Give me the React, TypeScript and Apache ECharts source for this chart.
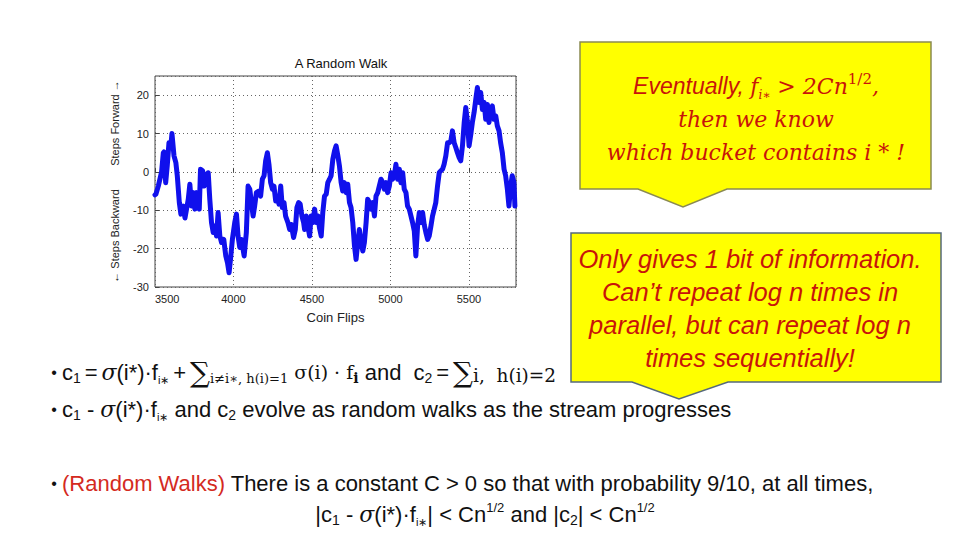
import React, { useEffect, useRef } from "react";
import * as echarts from "echarts";

// ---- data ----
const FLIPS = [
  3500, 3506, 3521, 3542, 3553, 3557, 3568, 3578, 3589, 3600, 3608, 3621, 3633, 3642, 3655, 3665, 3680, 3691, 3701, 3712,
  3722, 3733, 3744, 3754, 3765, 3782, 3790, 3803, 3813, 3822, 3832, 3839, 3849, 3860, 3871, 3881, 3892, 3902, 3913, 3924,
  3938, 3951, 3962, 3972, 3983, 3993, 4008, 4019, 4029, 4040, 4051, 4068, 4082, 4093, 4104, 4114, 4125, 4135, 4146, 4161,
  4173, 4184, 4195, 4205, 4216, 4226, 4237, 4248, 4258, 4269, 4279, 4290, 4301, 4311, 4322, 4332, 4347, 4358, 4368, 4383,
  4394, 4404, 4415, 4425, 4436, 4447, 4453, 4464, 4474, 4485, 4495, 4506, 4517, 4527, 4538, 4548, 4559, 4569, 4580, 4591,
  4601, 4612, 4622, 4633, 4644, 4654, 4665, 4675, 4686, 4696, 4707, 4718, 4728, 4739, 4749, 4760, 4771, 4781, 4792, 4802,
  4813, 4824, 4834, 4845, 4855, 4866, 4877, 4887, 4898, 4908, 4919, 4929, 4940, 4951, 4961, 4972, 4982, 4993, 5004, 5014,
  5025, 5035, 5046, 5057, 5067, 5078, 5088, 5099, 5109, 5120, 5131, 5141, 5152, 5162, 5173, 5184, 5194, 5205, 5215, 5226,
  5237, 5247, 5258, 5268, 5279, 5289, 5300, 5311, 5321, 5332, 5342, 5353, 5364, 5374, 5385, 5395, 5406, 5417, 5427, 5438,
  5448, 5459, 5470, 5480, 5491, 5501, 5512, 5522, 5533, 5544, 5554, 5565, 5575, 5586, 5597, 5607, 5618, 5628, 5639, 5649,
  5660, 5671, 5681, 5692, 5702, 5713, 5724, 5734, 5745, 5755, 5766, 5776, 5787, 5793,
];
const STEPS = [
  -6, -5.8, -3.7, 0, 5, 5.2, -2.8, 1.6, 7.6, 6.3, 10, 4.2, 2.4, -1, -8, -11, -8.9, -12, -9.7, -7.1,
  -3.2, -8.9, -5.4, -9.7, -5.4, -9.7, 0.7, 0.3, -3.7, -0.6, -1.9, -0.2, -7.1, -13.2, -15.8, -14.1, -16.7, -10.6, -16.7, -18.4,
  -17.6, -21.9, -23.7, -26.3, -21.9, -17.6, -13.2, -11, -16.7, -19.7, -17.6, -21.9, -15.8, -3.7, -4.5, -8, -11.5, -8.9, -5.4, -5,
  -6.3, -1.9, -1, 2.9, 5, 2, -2.8, -4.5, -3.7, -7.6, -6.3, -8.4, -3.7, -9.3, -8, -11.5, -13.2, -15, -13.7, -17.1,
  -15, -9.3, -8, -8.4, -11.5, -13.2, -15, -11.5, -14.1, -16.7, -11.5, -13.2, -9.7, -13.2, -11.5, -14.6, -16.7, -10.6, -6.3, -5.8,
  -2.8, -1.9, -1, 3.3, 5.5, 6.8, 4.2, 1.6, -2.8, -5, -2.8, -5.4, -3.2, -8, -9.3, -13.2, -19.3, -22.8, -18.4, -15,
  -18.4, -20.6, -18.4, -13.2, -7.1, -8, -9.7, -8, -11.5, -6.3, -5.4, -3.7, -1.9, -2.8, -4.5, -2.8, -5.4, -3.7, -0.2, -1.9,
  -1, 2, -1.9, 0.7, -2.8, -0.2, -4.5, -5.4, -8.9, -9.7, -11.5, -13.2, -15.4, -21.9, -14.1, -10.6, -13.2, -10.6, -13.7, -15.8,
  -17.6, -16.7, -14.1, -11.5, -9.7, -8, -3.7, -0.2, 0.3, 0.7, 2, 4.2, 7.6, 7.6, 8.1, 10.7, 7.6, 6.3, 5, 3.7,
  2.9, 6.8, 12.9, 16.8, 12.9, 6.8, 9.8, 12.9, 15.5, 19, 22, 18.1, 20.7, 16.3, 18.1, 13.7, 17.6, 12.9, 16.3, 17.2,
  13.7, 14.6, 12, 10.7, 7.6, 5, 0.7, -1, -4.5, -8.9, -3.7, -1, -2.8, -8.9,
];
const X_MIN = 3500;
const X_MAX = 5800;
const X_STEP = 500;
const Y_MIN = -30;
const Y_MAX = 25;
const Y_STEP = 10;

const CHART_TITLE = "A Random Walk";
const X_NAME = "Coin Flips";
const Y_NAME_LOW = "\u2190 Steps Backward";
const Y_NAME_HIGH = "Steps Forward \u2192";

const CALLOUT1_LINES = [
  "{si|Eventually, }{fi|f}{fsb|i\u2217}{fi| > 2Cn}{fsp|1/2}{fi|,}",
  "{fi|then we know}",
  "{fi|which bucket contains i * !}",
];
const CALLOUT2_TEXT =
  "Only gives 1 bit of information.\nCan\u2019t repeat log n times in\nparallel, but can repeat log n\ntimes sequentially!";

const BULLET1 =
  "{t|c}{sb|1}{g| }{t|=}{g| }{mi|\u03c3}{t|(i*)\u00b7f}{sbs|i\u2217}{g| }{t|+}{g| }{sig|\u2211}{ms|i\u2260i\u2217, h(i)=1}{m| \u03c3(i) \u00b7 f}{msb|i}{t| and  c}{sb|2}{g| }{t|=}{g| }{sig|\u2211}{ms2|i,  h(i)=2}";
const BULLET2 =
  "{t|c}{sb|1}{t| - }{mi|\u03c3}{t|(i*)\u00b7f}{sbs|i\u2217}{t| and c}{sb|2}{t| evolve as random walks as the stream progresses}";
const BULLET3 =
  "{red|(Random Walks)}{t| There is a constant C > 0 so that with probability 9/10, at all times,}";
const BULLET4 =
  "{t||c}{sb|1}{t| - }{mi|\u03c3}{t|(i*)\u00b7f}{sbs|i\u2217}{t|| < Cn}{sp|1/2}{t| and |c}{sb|2}{t|| < Cn}{sp|1/2}";

const SANS = "'Liberation Sans', Arial, sans-serif";
const SERIF = "'DejaVu Serif', 'Liberation Serif', serif";
const INK = "#111111";
const RED_TXT = "#c8140a";

function richBody(fs: number) {
  const L = 26;
  return {
    t: { fontSize: fs, fontFamily: SANS, fill: INK, lineHeight: L },
    g: { fontSize: 14, fontFamily: SANS, fill: INK, lineHeight: L },
    red: { fontSize: fs, fontFamily: SANS, fill: "#d42a1e", lineHeight: L },
    sb: { fontSize: 14, fontFamily: SANS, fill: INK, lineHeight: 14, verticalAlign: "bottom" },
    sbs: { fontSize: 11, fontFamily: SANS, fill: INK, lineHeight: 12, verticalAlign: "bottom" },
    sp: { fontSize: 13, fontFamily: SANS, fill: INK, lineHeight: 13, verticalAlign: "top" },
    mi: { fontSize: fs, fontFamily: SERIF, fontStyle: "italic", fill: INK, lineHeight: L },
    sig: { fontSize: 28, fontFamily: SERIF, fill: INK, lineHeight: L },
    m: { fontSize: 19, fontFamily: SERIF, fill: INK, lineHeight: L },
    ms: { fontSize: 13, fontFamily: SERIF, fill: INK, lineHeight: 13, verticalAlign: "bottom" },
    ms2: { fontSize: 18.5, fontFamily: SERIF, fill: INK, lineHeight: 16, verticalAlign: "bottom" },
    msb: { fontSize: 14, fontFamily: SERIF, fontWeight: "bold", fill: INK, lineHeight: 14, verticalAlign: "bottom" },
  };
}

const calloutRich = {
  si: { fontSize: 23, fontFamily: SANS, fontStyle: "italic", fill: RED_TXT, lineHeight: 30 },
  fi: { fontSize: 22, fontFamily: SERIF, fontStyle: "italic", fill: RED_TXT, lineHeight: 30 },
  fsb: { fontSize: 12, fontFamily: SERIF, fontStyle: "italic", fill: RED_TXT, lineHeight: 12, verticalAlign: "bottom" },
  fsp: { fontSize: 15, fontFamily: SERIF, fill: RED_TXT, lineHeight: 15, verticalAlign: "top" },
};

export default function App() {
  const ref = useRef<HTMLDivElement>(null);

  useEffect(() => {
    if (!ref.current) return;
    const chart = echarts.init(ref.current, null, { renderer: "svg" });

    const bulletDot = (y: number) => ({
      type: "text",
      x: 54,
      y,
      style: { text: "\u2022", fontSize: 16, fontFamily: SANS, fill: INK, align: "center", verticalAlign: "middle" },
    });
    const richLine = (text: string, x: number, y: number, align: string) => ({
      type: "text",
      x,
      y,
      style: {
        text,
        rich: richBody(22),
        fontSize: 22,
        fontFamily: SANS,
        fill: INK,
        align,
        verticalAlign: "middle",
      },
    });

    const option: any = {
      animation: false,
      backgroundColor: "#ffffff",
      title: {
        text: CHART_TITLE,
        left: 336,
        top: 52,
        textAlign: "center",
        textStyle: { fontSize: 13, fontWeight: "normal", fontFamily: SANS, color: "#111" },
      },
      grid: {
        left: 155,
        top: 76,
        width: 361,
        height: 211,
        show: true,
        borderColor: "#444",
        borderWidth: 1,
        backgroundColor: "transparent",
      },
      xAxis: {
        type: "value",
        min: X_MIN,
        max: X_MAX,
        interval: X_STEP,
        name: X_NAME,
        nameLocation: "middle",
        nameGap: 24,
        nameTextStyle: { fontSize: 13, fontFamily: SANS, color: "#222" },
        axisLine: { show: false },
        axisTick: { show: true, inside: true, length: 4, lineStyle: { color: "#444" } },
        axisLabel: {
          fontSize: 11,
          fontFamily: SANS,
          color: "#222",
          margin: 6,
          showMaxLabel: false,
          alignMinLabel: "left",
          formatter: (v: number) => String(v),
        },
        splitLine: { show: true, lineStyle: { type: [1, 3], color: "#666", width: 1 } },
      },
      yAxis: {
        type: "value",
        min: Y_MIN,
        max: Y_MAX,
        interval: Y_STEP,
        axisLine: { show: false },
        axisTick: { show: true, inside: true, length: 4, lineStyle: { color: "#444" } },
        axisLabel: {
          fontSize: 11,
          fontFamily: SANS,
          color: "#222",
          margin: 6,
          showMaxLabel: false,
          formatter: (v: number) => String(v),
        },
        splitLine: { show: true, lineStyle: { type: [1, 3], color: "#666", width: 1 } },
      },
      series: [
        {
          type: "line",
          data: FLIPS.map((f, i) => [f, STEPS[i]]),
          showSymbol: false,
          symbol: "none",
          silent: true,
          clip: true,
          lineStyle: { color: "#1010ec", width: 5, join: "round", cap: "round" },
        },
      ],
      graphic: [
        {
          type: "text",
          x: 115,
          y: 236,
          rotation: Math.PI / 2,
          style: { text: Y_NAME_LOW, fontSize: 11, fontFamily: SANS, fill: "#222", align: "center", verticalAlign: "middle" },
        },
        {
          type: "text",
          x: 115,
          y: 123,
          rotation: Math.PI / 2,
          style: { text: Y_NAME_HIGH, fontSize: 11, fontFamily: SANS, fill: "#222", align: "center", verticalAlign: "middle" },
        },
        bulletDot(372),
        richLine(BULLET1, 62, 372, "left"),
        bulletDot(409),
        richLine(BULLET2, 62, 409, "left"),
        bulletDot(483),
        richLine(BULLET3, 62, 483, "left"),
        richLine(BULLET4, 485, 514, "center"),
        // callout 1
        {
          type: "polygon",
          shape: {
            points: [
              [580, 42], [931, 42], [931, 189], [727, 189], [683, 207], [638, 189], [580, 189],
            ],
          },
          style: { fill: "#ffff00", stroke: "#8a8a52", lineWidth: 1.5 },
        },
        ...CALLOUT1_LINES.map((t, i) => ({
          type: "text",
          x: 756,
          y: 86 + i * 33,
          style: { text: t, rich: calloutRich, fontSize: 22, fontFamily: SERIF, fill: RED_TXT, align: "center", verticalAlign: "middle" },
        })),
        // callout 2
        {
          type: "polygon",
          shape: {
            points: [
              [571, 233], [941, 233], [941, 382], [728, 382], [679, 399], [632, 382], [571, 382],
            ],
          },
          style: { fill: "#ffff00", stroke: "#55697c", lineWidth: 1.5 },
        },
        {
          type: "text",
          x: 750,
          y: 308,
          style: {
            text: CALLOUT2_TEXT,
            fontSize: 25.5,
            fontStyle: "italic",
            fontFamily: SANS,
            fill: RED_TXT,
            lineHeight: 33,
            align: "center",
            verticalAlign: "middle",
          },
        },
      ],
    };

    chart.setOption(option);
    return () => chart.dispose();
  }, []);

  return (
    <div
      ref={ref}
      style={{ position: "absolute", left: 0, top: 0, width: 960, height: 540, background: "#fff" }}
    />
  );
}
